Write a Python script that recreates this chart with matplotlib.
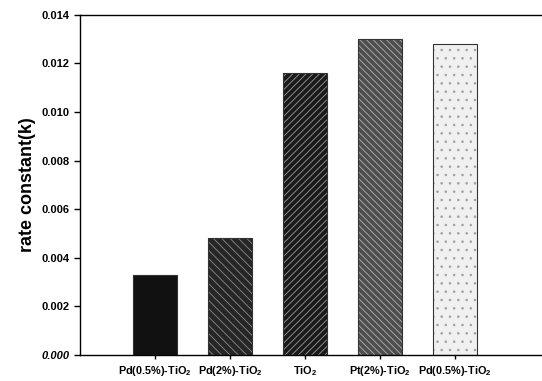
import matplotlib.pyplot as plt
import matplotlib as mpl

mpl.rcParams['hatch.linewidth'] = 0.6
plt.rcParams['font.family'] = ['Liberation Sans', 'DejaVu Sans']
plt.rcParams['mathtext.fontset'] = 'custom'
plt.rcParams['mathtext.bf'] = 'Liberation Sans:bold'
plt.rcParams['mathtext.rm'] = 'Liberation Sans:bold'
plt.rcParams['mathtext.default'] = 'bf'

# dados
catalisadores = ['Pd(0.5%)-TiO$_2$', 'Pd(2%)-TiO$_2$', 'TiO$_2$', 'Pt(2%)-TiO$_2$', 'Pd(0.5%)-TiO$_2$']
k_valores = [0.0033, 0.0048, 0.0116, 0.0130, 0.0128]
y_ticks = [0.000, 0.002, 0.004, 0.006, 0.008, 0.010, 0.012, 0.014]

cores = ['#111111', '#262626', '#1a1a1a', '#4e4e4e', '#f0f0f0']
hachuras = ['', '\\\\\\\\', '/////', '\\\\\\\\\\', '..']
cor_hachura = ['#222222', '#8a8a8a', '#9a9a9a', '#b0b0b0', '#a0a0a0']

fig = plt.figure(figsize=(5.42, 3.81), dpi=100)
ax = fig.add_axes([0.148, 0.068, 0.852, 0.893])

pos = list(range(1, len(k_valores) + 1))
for i, (p, v) in enumerate(zip(pos, k_valores)):
    ax.bar(p, v, width=0.59, color=cores[i], hatch=hachuras[i],
           edgecolor=cor_hachura[i], linewidth=0)
    # contorno da barra
    ax.bar(p, v, width=0.59, fill=False, edgecolor='#333333', linewidth=0.8)

ax.set_xlim(0, 6.16)
ax.set_ylim(0, 0.014)
ax.set_xticks(pos)
ax.set_xticklabels(catalisadores, fontsize=7.8, fontweight='bold')
ax.set_yticks(y_ticks)
ax.set_yticklabels(['%.3f' % t for t in y_ticks], fontsize=8, fontweight='bold')
ax.get_yticklabels()[0].set_style('italic')
ax.set_ylabel('rate constant(k)', fontsize=13, fontweight='bold')

ax.spines['right'].set_visible(False)
for s in ['left', 'top', 'bottom']:
    ax.spines[s].set_linewidth(1.0)
ax.tick_params(axis='y', direction='out', length=4, width=1)
ax.tick_params(axis='x', direction='out', length=3, width=1)

plt.savefig('out.png', dpi=100)
plt.close()
